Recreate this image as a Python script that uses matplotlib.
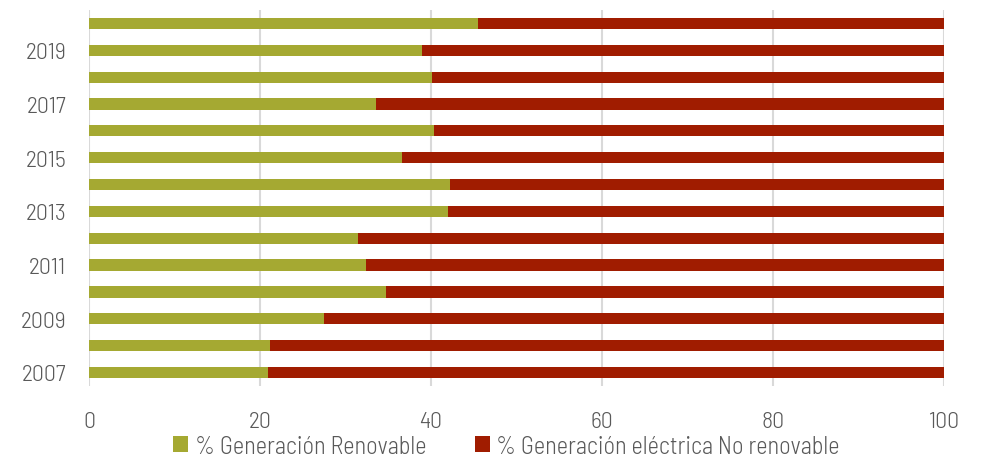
import matplotlib
matplotlib.use('Agg')
import matplotlib.pyplot as plt

years = list(range(2007, 2021))
renovable = [20.9, 21.2, 27.5, 34.7, 32.4, 31.5, 42.0, 42.2, 36.6, 40.4, 33.6, 40.1, 38.9, 45.5]
no_renovable = [100 - v for v in renovable]
ytick_labels = [str(y) if (y - 2007) % 2 == 0 else '' for y in years]
xticks = [0, 20, 40, 60, 80, 100]

plt.rcParams['font.family'] = ['Barlow Semi Condensed', 'DejaVu Sans']
plt.rcParams['font.weight'] = 300

green = '#A5A932'
red = '#A01C00'
txt = '#595959'

fig = plt.figure(figsize=(9.87, 4.6), dpi=100)
ax = fig.add_axes([0.0902, 0.159, 0.8662, 0.817])

pos = range(len(years))
h = 0.42
ax.barh(pos, renovable, height=h, color=green, label='% Generación Renovable', zorder=3)
ax.barh(pos, no_renovable, left=renovable, height=h, color=red,
        label='% Generación eléctrica No renovable', zorder=3)

ax.set_xlim(0, 100)
ax.set_ylim(-0.5, len(years) - 0.5)
ax.set_xticks(xticks)
ax.set_xticklabels([str(x) for x in xticks], fontsize=17, color=txt)
ax.set_yticks(list(pos))
ax.set_yticklabels(ytick_labels, fontsize=17, color=txt)
ax.tick_params(axis='y', length=0, pad=16.5)
ax.tick_params(axis='x', length=0, pad=18)
ax.grid(axis='x', color='#D9D9D9', linewidth=1.5, zorder=0)
for s in ax.spines.values():
    s.set_visible(False)

fig.legend(loc='center', bbox_to_anchor=(0.513, 0.028), ncol=2, frameon=False,
           fontsize=17.5, labelcolor=txt, handlelength=0.62, handleheight=0.62,
           handletextpad=0.25, columnspacing=2.0, borderpad=0)

fig.savefig('out.png', dpi=100)
